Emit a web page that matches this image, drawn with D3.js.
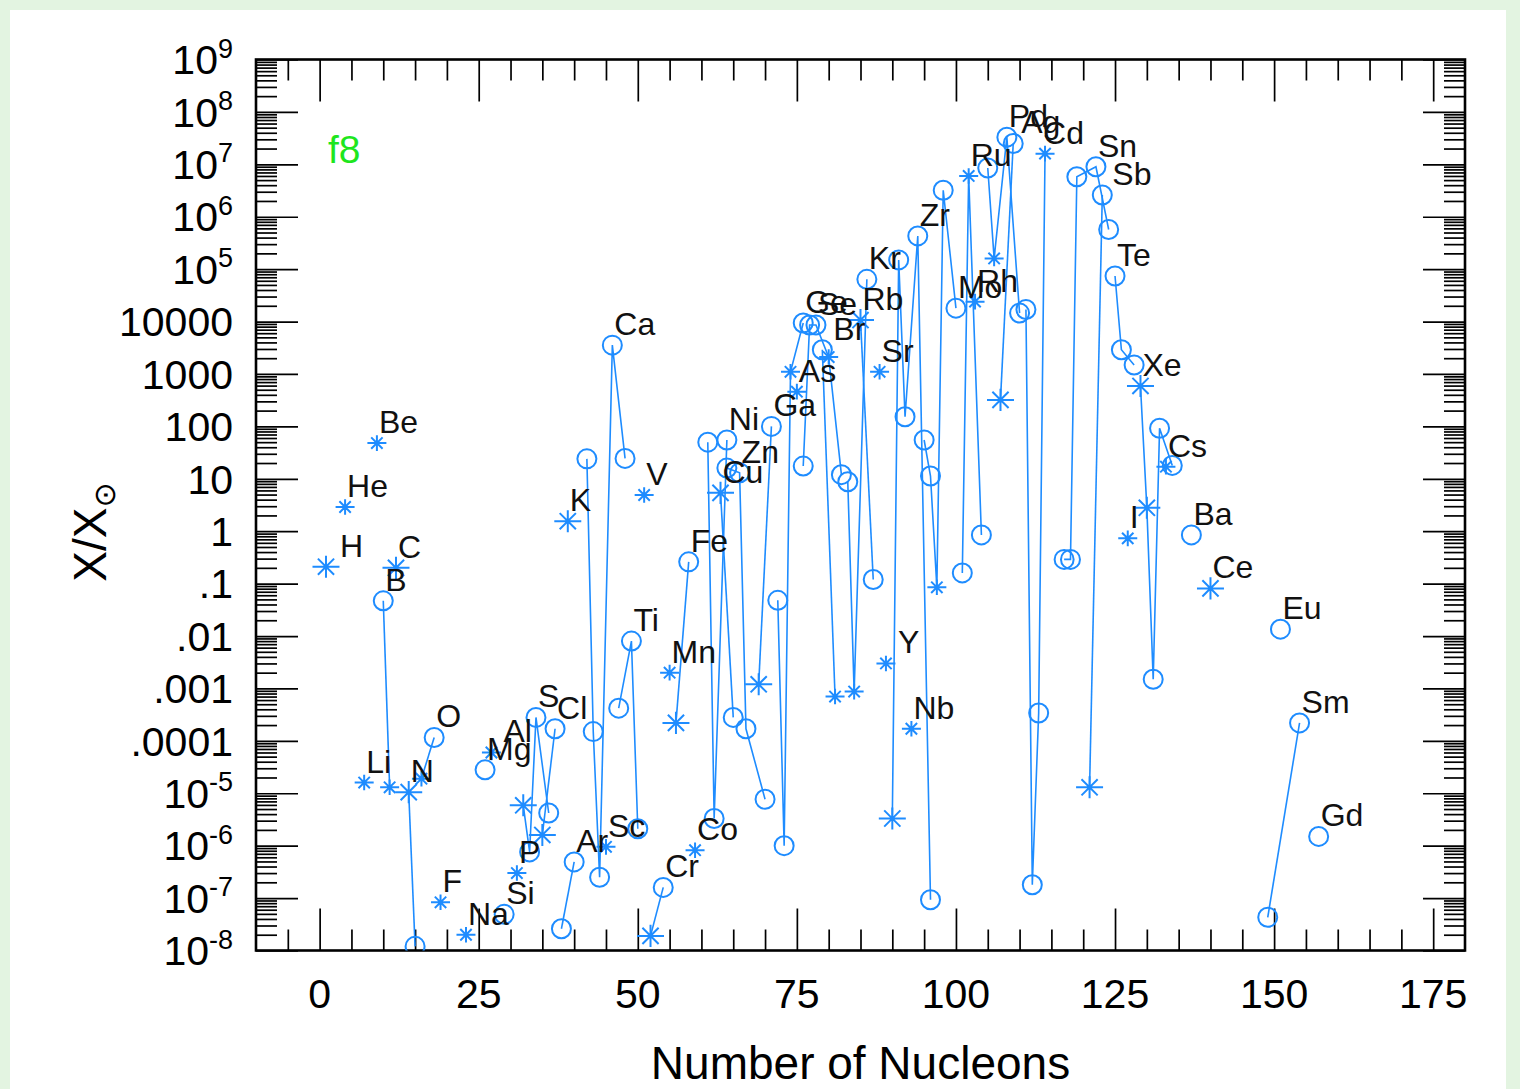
<!DOCTYPE html>
<html>
<head>
<meta charset="utf-8">
<script src="https://cdn.jsdelivr.net/npm/d3@7"></script>
<style>
html, body { margin: 0; padding: 0; background: #e3f4e1; }
svg { display: block; }
</style>
</head>
<body>
<svg id="chart" width="1520" height="1089"></svg>
<script>
// Element symbols, in order of mass number
const elementNames = ["H","He","Li","Be","B","C","N","O","F","Na","Mg","Al","Si","P","S","Cl","Ar","K","Ca","Sc",
  "Ti","V","Cr","Mn","Fe","Co","Ni","Cu","Zn","Ga","Ge","As","Se","Br","Kr","Rb","Sr","Y","Zr","Nb",
  "Mo","Ru","Rh","Pd","Ag","Cd","Sn","Sb","Te","I","Xe","Cs","Ba","Ce","Sm","Eu","Gd"];

// Mass numbers of the isotopes plotted for each element
const massNumbers = [[1],[4],[7],[9],[10,11],[12],[14,15],[16,18],[19],[23],[26],[27],[29],[31],[32,33,34,36],[35,37],[38,40],[39],[42,43,44,46,48],[45],
  [47,49,50],[51],[52,54],[55],[56,58],[59],[61,62,64],[63,65],[64,66,67,70],[69,71],[72,73,74,76],[75],[76,77,78,80,82],[79,81],[83,84,86],[85,87],[88],[89],[90,91,92,94,96],[93],
  [95,96,97,98,100],[101,102,104],[103],[105,106,108,110],[107,109],[111,112,113,114],[117,118,119,122,124],[121,123],[125,126,128],[127],[129,130,131,132,134],[133],[137],[140],[149,154],[151],[157]];

// Abundance relative to solar, X/X_sun
const ratios = [[0.21],[2.9],[1.6e-5],[48],[0.047,1.3e-5],[0.2],[1.05e-5,1.2e-8],[1.9e-5,1.16e-4],[8.3e-8],[2.0e-8],[2.8e-5],[6e-5],[4.9e-8],[3.0e-7],[5.9e-6,7.6e-7,2.8e-4,4.2e-6],[1.6e-6,1.7e-4],[2.6e-8,4.9e-7],[1.55],[24,1.5e-4,2.5e-7,3550,24.5],[9.5e-7],
  [4.2e-4,8e-3,2.1e-6],[4.9],[1.9e-8,1.6e-7],[2e-3],[2.2e-4,0.26],[8.2e-7],[50,3.3e-6,55],[5.4,2.8e-4],[16,13,1.7e-4,7.7e-6],[1.2e-3,100],[0.048,1.0e-6,1100,9400],[460],[17.5,8600,8600,2100,12],[2900,7e-4],[8.8,8.7e-4,6.4e4],[1.07e4,0.12],[1100],[3.0e-3],[3.3e-6,1.5e5,153,4.3e5,9.3e-8],[1.7e-4],
  [55,11.3,0.085,3.2e6,1.8e4],[0.16,6e6,0.85],[2.4e4],[8.5e6,1.6e5,3.3e7,1.45e4],[320,2.5e7],[1.7e4,1.8e-7,3.4e-4,1.6e7],[0.29,0.29,5.8e6,9e6,5.7e5],[1.3e-5,2.6e6],[7.4e4,2900,1480],[0.73],[590,2.8,1.5e-3,92,18],[17],[0.85],[0.081],[4.3e-8,2.2e-4],[0.0135],[1.5e-6]];

// Symbol per isotope: "o" open circle, "s" small asterisk, "b" large asterisk
const markerKinds = [["b"],["s"],["s"],["s"],["o","s"],["b"],["b","o"],["s","o"],["s"],["s"],["o"],["s"],["o"],["s"],["b","o","o","o"],["b","o"],["o","o"],["b"],["o","o","o","o","o"],["s"],
  ["o","o","o"],["s"],["b","o"],["s"],["b","o"],["s"],["o","o","o"],["b","o"],["o","o","o","o"],["b","o"],["o","o","s","o"],["s"],["o","o","o","s","o"],["o","s"],["o","s","o"],["b","o"],["s"],["s"],["b","o","o","o","o"],["s"],
  ["o","o","s","o","o"],["o","s","o"],["s"],["o","s","o","o"],["b","o"],["o","o","o","s"],["o","o","o","o","o"],["b","o"],["o","o","o"],["s"],["b","b","o","o","o"],["s"],["o"],["b"],["o","o"],["o"],["o"]];

// Isotope that carries each element's name
const labelMass = [1,4,7,9,10,12,14,18,19,23,26,27,29,31,34,37,40,39,46,45,
  49,51,54,55,58,59,64,63,66,71,76,75,78,79,86,85,88,89,94,93,
  100,102,103,108,109,114,122,123,125,127,129,133,137,140,154,151,157];

const xTickValues = [0,25,50,75,100,125,150,175];
const yTickLabels = [
  ["10","-8"],["10","-7"],["10","-6"],["10","-5"],[".0001"],[".001"],[".01"],[".1"],["1"],
  ["10"],["100"],["1000"],["10000"],["10","5"],["10","6"],["10","7"],["10","8"],["10","9"]];

const W = 1520, H = 1089;
const plot = { left: 256, right: 1465, top: 59.5, bottom: 950.5 };
const blue = "#1e8cff";
const font = "'Liberation Sans', Arial, Helvetica, sans-serif";

const svg = d3.select("#chart");
const x = d3.scaleLinear().domain([-10, 180]).range([plot.left, plot.right]);
const y = d3.scaleLog().domain([1e-8, 1e9]).range([plot.bottom, plot.top]);

// page backdrop and white sheet
svg.append("rect").attr("width", W).attr("height", H).attr("fill", "#e3f4e1");
svg.append("rect").attr("x", 10).attr("y", 10).attr("width", 1496).attr("height", H - 10).attr("fill", "#ffffff");

// ---- tick marks (inward, on all four sides) ----
const xMajor = d3.range(0, 176, 25);
const xMinor = d3.range(-5, 180, 5).filter(v => v % 25 !== 0);
const yMajor = d3.range(-8, 10).map(k => Math.pow(10, k));
const yMinor = [];
d3.range(-8, 9).forEach(k => d3.range(2, 10).forEach(m => yMinor.push(m * Math.pow(10, k))));

function tickLayer(axis, tx, ty) {
  const g = svg.append("g").attr("transform", `translate(${tx},${ty})`).call(axis);
  g.select(".domain").remove();
  g.selectAll(".tick line").attr("stroke", "#000").attr("stroke-width", 1.7);
  g.selectAll(".tick text").remove();
  return g;
}
tickLayer(d3.axisBottom(x).tickValues(xMajor).tickSize(-42).tickFormat(""), 0, plot.bottom);
tickLayer(d3.axisBottom(x).tickValues(xMinor).tickSize(-21).tickFormat(""), 0, plot.bottom);
tickLayer(d3.axisTop(x).tickValues(xMajor).tickSize(-42).tickFormat(""), 0, plot.top);
tickLayer(d3.axisTop(x).tickValues(xMinor).tickSize(-21).tickFormat(""), 0, plot.top);
tickLayer(d3.axisLeft(y).tickValues(yMajor).tickSize(-42).tickFormat(""), plot.left, 0);
tickLayer(d3.axisLeft(y).tickValues(yMinor).tickSize(-21).tickFormat(""), plot.left, 0);
tickLayer(d3.axisRight(y).tickValues(yMajor).tickSize(-42).tickFormat(""), plot.right, 0);
tickLayer(d3.axisRight(y).tickValues(yMinor).tickSize(-21).tickFormat(""), plot.right, 0);

// plot frame
svg.append("rect")
  .attr("x", plot.left).attr("y", plot.top)
  .attr("width", plot.right - plot.left).attr("height", plot.bottom - plot.top)
  .attr("fill", "none").attr("stroke", "#000").attr("stroke-width", 2.6);

// ---- tick labels ----
svg.append("g").selectAll("text").data(xTickValues).join("text")
  .attr("x", d => x(d)).attr("y", 1008)
  .attr("text-anchor", "middle")
  .attr("font-family", font).attr("font-size", 41).attr("fill", "#000")
  .text(d => d);

const yLab = svg.append("g").selectAll("text").data(yTickLabels).join("text")
  .attr("x", 233)
  .attr("y", (d, i) => y(Math.pow(10, i - 8)))
  .attr("dy", "0.36em")
  .attr("text-anchor", "end")
  .attr("font-family", font).attr("font-size", 41).attr("fill", "#000");
yLab.append("tspan").text(d => d[0]);
yLab.filter(d => d.length > 1).append("tspan")
  .attr("dy", "-0.62em").attr("font-size", 27)
  .text(d => d[1]);

// ---- axis titles ----
svg.append("text")
  .attr("x", (plot.left + plot.right) / 2).attr("y", 1079)
  .attr("text-anchor", "middle")
  .attr("font-family", font).attr("font-size", 46).attr("fill", "#000")
  .text("Number of Nucleons");

const yTitle = svg.append("text")
  .attr("transform", "translate(106,532) rotate(-90)")
  .attr("text-anchor", "middle")
  .attr("font-family", font).attr("font-size", 46).attr("fill", "#000");
yTitle.append("tspan").text("X/X");
yTitle.append("tspan").attr("dy", "0.3em").attr("font-size", 30).attr("font-family", "'DejaVu Sans', sans-serif").text("\u2299");

// model tag
svg.append("text")
  .attr("x", 328).attr("y", 163)
  .attr("font-family", font).attr("font-size", 39).attr("fill", "#1ee61e")
  .text("f8");

// ---- isotope data ----
svg.append("clipPath").attr("id", "plotClip")
  .append("rect")
  .attr("x", plot.left).attr("y", plot.top)
  .attr("width", plot.right - plot.left).attr("height", plot.bottom - plot.top);

const elements = elementNames.map((name, i) => ({
  name,
  points: massNumbers[i].map((a, j) => ({ a, v: ratios[i][j], kind: markerKinds[i][j] })),
  labelA: labelMass[i]
}));

const dataLayer = svg.append("g").attr("clip-path", "url(#plotClip)");
const line = d3.line().x(d => x(d.a)).y(d => y(d.v));

dataLayer.selectAll("path.iso-line")
  .data(elements.filter(e => e.points.length > 1))
  .join("path").attr("class", "iso-line")
  .attr("d", e => line(e.points))
  .attr("fill", "none").attr("stroke", blue).attr("stroke-width", 1.6);

const allPoints = elements.flatMap(e => e.points);

dataLayer.selectAll("circle.iso")
  .data(allPoints.filter(p => p.kind === "o"))
  .join("circle").attr("class", "iso")
  .attr("cx", d => x(d.a)).attr("cy", d => y(d.v)).attr("r", 9.5)
  .attr("fill", "none").attr("stroke", blue).attr("stroke-width", 2);

function asteriskPath(h) {
  const v = h * 0.82, d = h * 0.6;
  return `M${-h},0L${h},0M0,${-v}L0,${v}M${-d},${-d}L${d},${d}M${-d},${d}L${d},${-d}`;
}
dataLayer.selectAll("path.star")
  .data(allPoints.filter(p => p.kind !== "o"))
  .join("path").attr("class", "star")
  .attr("transform", d => `translate(${x(d.a)},${y(d.v)})`)
  .attr("d", d => asteriskPath(d.kind === "b" ? 13.5 : 9.5))
  .attr("fill", "none").attr("stroke", blue).attr("stroke-width", 2);

// element names beside their isotope
const labelShift = { H: 12, Al: 10, Br: 9, Y: 10, Ag: 6, Sb: 8, Cd: -4 };
svg.append("g").selectAll("text").data(elements).join("text")
  .attr("x", e => x(e.labelA) + 2 + (labelShift[e.name] || 0))
  .attr("y", e => y(e.points.find(p => p.a === e.labelA).v) - 10)
  .attr("font-family", font).attr("font-size", 32).attr("fill", "#111")
  .text(e => e.name);
</script>
</body>
</html>
